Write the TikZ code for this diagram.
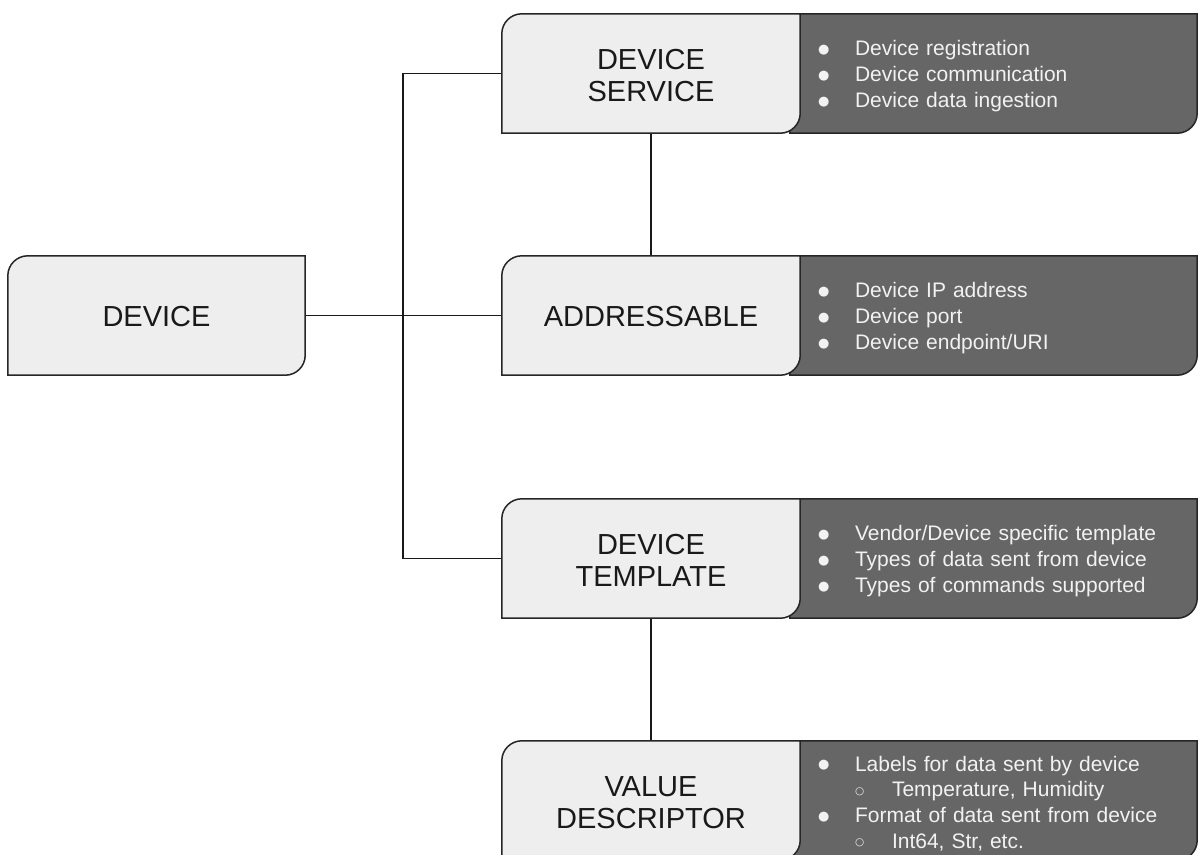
\documentclass[tikz,border=0pt]{standalone}
\usepackage{fontspec}
\setmainfont{Liberation Sans}
\newfontfamily\symfont{DejaVu Sans}
\usetikzlibrary{calc}
\definecolor{boxlight}{HTML}{EEEEEE}
\definecolor{boxdark}{HTML}{666666}
\definecolor{textlight}{HTML}{F2F2F2}
\newcommand{\itembul}[1]{\makebox[40pt][l]{\hspace{3pt}\raisebox{2.6pt}{\symfont\fontsize{13}{13}\selectfont ●}}#1}
\newcommand{\itemsub}[1]{\makebox[40pt][l]{}\makebox[37pt][l]{\raisebox{2.6pt}{\symfont\fontsize{10.5}{10.5}\selectfont ○}}#1}
\newcommand{\lightshape}[1]{%
  \draw[shapeline, fill=boxlight] (#1.south west) -- ([yshift=-20pt]#1.north west)
    arc[start angle=180, end angle=90, radius=20pt] -- (#1.north east)
    -- ([yshift=20pt]#1.south east) arc[start angle=0, end angle=-90, radius=20pt] -- cycle;}
\newcommand{\darkshape}[1]{%
  \draw[shapeline, fill=boxdark] (#1.south west) -- (#1.north west) -- (#1.north east)
    -- ([yshift=20pt]#1.south east) arc[start angle=0, end angle=-90, radius=20pt] -- cycle;}
\tikzset{
  lbl/.style={minimum width=298pt, minimum height=119pt, inner sep=0pt, align=center,
    font=\fontsize{29}{31.5}\selectfont, text=black!90},
  dlbl/.style={minimum height=119pt, inner xsep=25pt, inner ysep=0pt, text width=357pt,
    align=left, text=textlight, font=\fontsize{21}{26}\selectfont},
  shapeline/.style={draw=black!85, line width=1.5pt},
  conn/.style={draw=black!90, line width=1.5pt},
}
\begin{document}
\begin{tikzpicture}[x=1pt, y=-1pt]
\useasboundingbox (0,0) rectangle (1198,854);
\clip (0,0) rectangle (1198,854);
\fill[white] (0,0) rectangle (1198,854);
% nodes (positions)
\node[lbl, minimum width=297pt] (dev) at (156.5,315.5) {};
\node[lbl] (svc) at (651,73.5) {};
\node[lbl] (addr) at (651,315.5) {};
\node[lbl] (tmpl) at (651,558.5) {};
\node[lbl] (val) at (651,800.5) {};
\node[dlbl] (svcd) at (993.5,73.5) {};
\node[dlbl] (addrd) at (993.5,315.5) {};
\node[dlbl] (tmpld) at (993.5,558.5) {};
\node[dlbl] (vald) at (993.5,800.5) {};
\coordinate (trunk) at (403,0);
% connectors
\draw[conn] (svc.west) -| (trunk |- tmpl.west) -- (tmpl.west);
\draw[conn] (dev.east) -- (addr.west);
\draw[conn] (svc.south) -- (addr.north);
\draw[conn] (tmpl.south) -- (val.north);
% shapes
\foreach \n in {svcd,addrd,tmpld,vald} {\darkshape{\n}}
\foreach \n in {dev,svc,addr,tmpl,val} {\lightshape{\n}}
% texts
\node[lbl, minimum width=297pt, yshift=-1pt] at (dev) {DEVICE};
\node[lbl, yshift=-2pt] at (svc) {DEVICE\\SERVICE};
\node[lbl, yshift=-1pt] at (addr) {ADDRESSABLE};
\node[lbl, yshift=-2pt] at (tmpl) {DEVICE\\TEMPLATE};
\node[lbl, yshift=-2pt] at (val) {VALUE\\DESCRIPTOR};
\node[dlbl, yshift=-3pt] at (svcd) {\itembul{Device registration}\\\itembul{Device communication}\\\itembul{Device data ingestion}};
\node[dlbl, yshift=-3pt] at (addrd) {\itembul{Device IP address}\\\itembul{Device port}\\\itembul{Device endpoint/URI}};
\node[dlbl, yshift=-3pt] at (tmpld) {\itembul{Vendor/Device specific template}\\\itembul{Types of data sent from device}\\\itembul{Types of commands supported}};
\node[dlbl, yshift=-3pt, font=\fontsize{21}{25.7}\selectfont] at (vald) {\itembul{Labels for data sent by device}\\\itemsub{Temperature, Humidity}\\\itembul{Format of data sent from device}\\\itemsub{Int64, Str, etc.}};
\end{tikzpicture}
\end{document}
